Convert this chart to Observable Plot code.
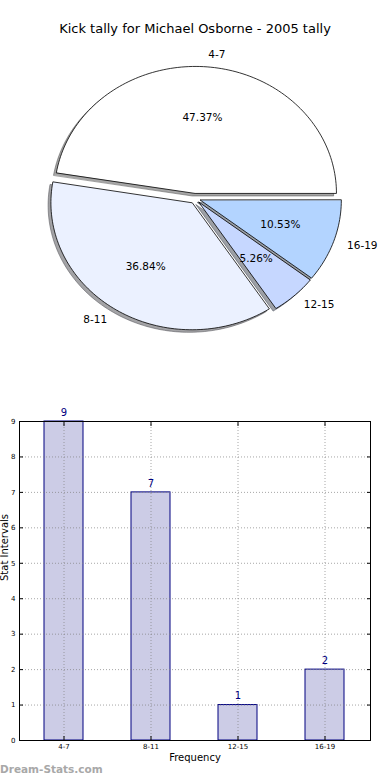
<!DOCTYPE html>
<html>
<head>
<meta charset="utf-8">
<script src="https://cdn.jsdelivr.net/npm/d3@7"></script>
<script src="https://cdn.jsdelivr.net/npm/@observablehq/plot@0.6"></script>
<style>
  html, body { margin: 0; padding: 0; background: #fff; }
  #wrap { position: relative; width: 390px; height: 780px; overflow: hidden; font-family: "DejaVu Sans", sans-serif; }
  #title { position: absolute; top: 21px; left: 0; width: 390px; text-align: center; font-size: 13px; color: #000; }
  #pie { position: absolute; top: 0; left: 0; }
  #bars { position: absolute; top: 400px; left: 0; }
  #mark { position: absolute; left: 0; top: 763px; font-size: 10.5px; font-weight: bold; color: #a8a8a8; }
</style>
</head>
<body>
<div id="wrap">
  <div id="pie"></div>
  <div id="title">Kick tally for Michael Osborne - 2005 tally</div>
  <div id="bars"></div>
  <div id="mark">Dream-Stats.com</div>
</div>
<script>
const chartTitle = "Kick tally for Michael Osborne - 2005 tally";
const categories = ["4-7", "8-11", "12-15", "16-19"];
const counts = [9, 7, 1, 2];
const sliceColors = ["#ffffff", "#ebf1ff", "#c6d7ff", "#b3d4ff"];
const yTicks = [0, 1, 2, 3, 4, 5, 6, 7, 8, 9];
const xLabel = "Frequency";
const yLabel = "Stat Intervals";

// ---- Pie ----
const total = d3.sum(counts);
let acc = 0;
const slices = categories.map((cat, i) => {
  const a0 = acc / total * 2 * Math.PI;
  acc += counts[i];
  const a1 = acc / total * 2 * Math.PI;
  return {cat, value: counts[i], a0, a1, mid: (a0 + a1) / 2, color: sliceColors[i],
          pct: (counts[i] / total * 100).toFixed(2) + "%"};
});
const explode = 0.04;
const shadowOff = -0.02;

function wedge(s, off) {
  const ox = explode * Math.cos(s.mid) + off;
  const oy = explode * Math.sin(s.mid) + off;
  const pts = [{cat: s.cat, x: ox, y: oy}];
  const n = Math.max(6, Math.ceil((s.a1 - s.a0) / (Math.PI / 120)));
  for (let k = 0; k <= n; k++) {
    const a = s.a0 + (s.a1 - s.a0) * k / n;
    pts.push({cat: s.cat, x: ox + Math.cos(a), y: oy + Math.sin(a)});
  }
  return pts;
}

const pieMarks = [];
slices.forEach(s => {
  const c = d3.rgb(s.color);
  const sc = d3.rgb(c.r * 0.3, c.g * 0.3, c.b * 0.3).formatHex();
  pieMarks.push(Plot.line(wedge(s, shadowOff), {x: "x", y: "y", curve: "linear-closed",
    fill: sc, fillOpacity: 0.5, stroke: sc, strokeOpacity: 0.5, strokeWidth: 1}));
});
slices.forEach(s => {
  pieMarks.push(Plot.line(wedge(s, 0), {x: "x", y: "y", curve: "linear-closed",
    fill: s.color, stroke: "#000", strokeWidth: 0.8}));
});
const pctDist = 0.6, labDist = 1.1;
pieMarks.push(Plot.text(slices, {
  x: s => (explode + pctDist) * Math.cos(s.mid),
  y: s => (explode + pctDist) * Math.sin(s.mid),
  text: "pct", fill: "#000", fontSize: 10.5
}));
pieMarks.push(Plot.text(slices.filter(s => Math.cos(s.mid) >= 0), {
  x: s => (explode + labDist) * Math.cos(s.mid),
  y: s => (explode + labDist) * Math.sin(s.mid),
  text: "cat", textAnchor: "start", fill: "#000", fontSize: 10.5
}));
pieMarks.push(Plot.text(slices.filter(s => Math.cos(s.mid) < 0), {
  x: s => (explode + labDist) * Math.cos(s.mid),
  y: s => (explode + labDist) * Math.sin(s.mid),
  text: "cat", textAnchor: "end", fill: "#000", fontSize: 10.5
}));

const pie = Plot.plot({
  width: 390, height: 380, margin: 0,
  x: {domain: [-194.5 / 141, 195.5 / 141], axis: null},
  y: {domain: [(198 - 380) / 127, 198 / 127], axis: null},
  style: {fontFamily: "DejaVu Sans", fontSize: "10.5px", background: "transparent"},
  marks: pieMarks
});
document.getElementById("pie").appendChild(pie);

// ---- Bars ----
const barData = categories.map((cat, i) => ({cat, count: counts[i]}));
const bars = Plot.plot({
  width: 390, height: 380,
  marginLeft: 19, marginRight: 20, marginTop: 21, marginBottom: 40,
  x: {domain: categories, paddingInner: 0.55, paddingOuter: 0.275, label: null},
  y: {domain: [0, 9], label: null},
  style: {fontFamily: "DejaVu Sans", fontSize: "7px", background: "transparent", color: "#000"},
  marks: [
    Plot.barY(barData, {x: "cat", y: "count", fill: "#ccccE6", stroke: "#000080", strokeWidth: 1}),
    Plot.gridY(yTicks, {stroke: "#808080", strokeOpacity: 0.7, strokeDasharray: "1,2"}),
    Plot.gridX({stroke: "#808080", strokeOpacity: 0.7, strokeDasharray: "1,2"}),
    Plot.frame({stroke: "#000", strokeWidth: 1}),
    Plot.axisY(yTicks, {anchor: "left", tickSize: 0, tickPadding: 4, label: null}),
    Plot.axisX({anchor: "bottom", tickSize: 0, tickPadding: 4, label: null}),
    Plot.axisY(yTicks, {anchor: "left", tickSize: 4, dx: 4, fill: "none", label: null}),
    Plot.axisY(yTicks, {anchor: "right", tickSize: 4, dx: -4, fill: "none", label: null}),
    Plot.axisX({anchor: "bottom", tickSize: 4, dy: -4, fill: "none", label: null}),
    Plot.axisX({anchor: "top", tickSize: 4, dy: 4, fill: "none", label: null}),
    Plot.text(barData, {x: "cat", y: "count", text: d => String(d.count), dy: -9, fill: "#000080", fontSize: 10}),
    Plot.text([xLabel], {frameAnchor: "bottom", dy: 20, fontSize: 10, fill: "#000"}),
    Plot.text([yLabel], {frameAnchor: "left", dx: -15, rotate: -90, fontSize: 10, fill: "#000"})
  ]
});
document.getElementById("bars").appendChild(bars);
</script>
</body>
</html>
